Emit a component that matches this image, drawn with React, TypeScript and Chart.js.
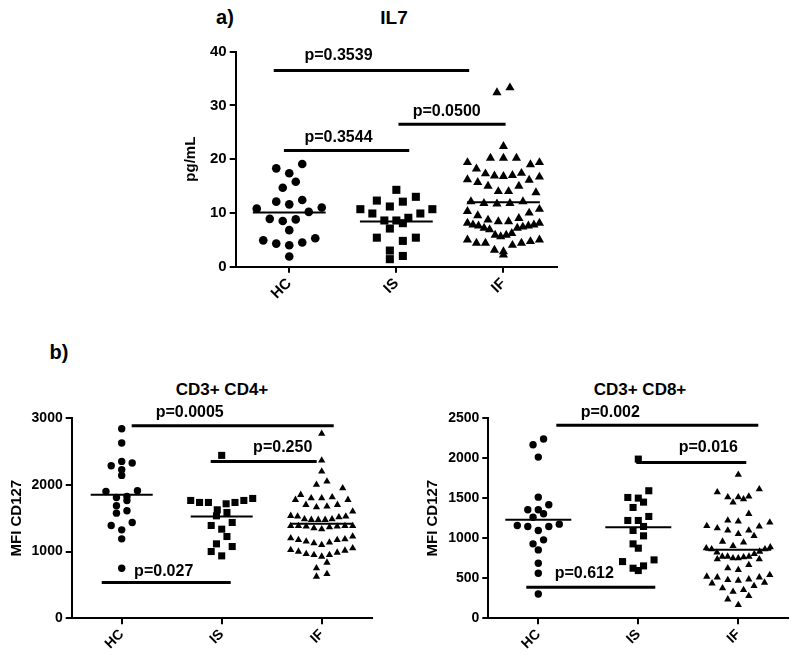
import React, { useEffect, useRef } from 'react';
import { Chart, registerables } from 'chart.js';

Chart.register(...registerables);

const FONT = "'Liberation Sans', Arial, Helvetica, sans-serif";
Chart.defaults.font.family = FONT;

// ---------- data ----------
const categories = ['HC', 'IS', 'IF'];

// a) IL7 (pg/mL)
const il7HC = [18.3, 19.1, 17.4, 15.8, 14.7, 12.4, 11.6, 12.1, 10.8, 10.2, 11.0, 8.8, 8.5, 8.9, 6.8, 5.3, 4.5, 4.0, 4.3, 4.9, 1.9];
const il7IS = [14.3, 13.0, 12.1, 12.3, 10.7, 10.7, 11.2, 9.9, 9.9, 8.6, 8.1, 8.6, 9.1, 7.1, 5.4, 4.8, 5.4, 3.0, 1.4, 2.0];
const il7IF = [33.3, 32.4, 22.4, 20.2, 19.4, 19.0, 19.4, 20.2, 20.2, 18.2, 17.4, 16.2, 17.0, 16.8, 16.7, 16.9, 17.3, 16.1,
  15.7, 15.0, 14.0, 13.8, 14.0, 15.0, 12.1, 11.8, 11.7, 11.8, 12.1, 10.0, 10.3, 10.7, 9.5, 8.7, 8.4, 8.1, 7.8, 7.6, 7.6,
  7.8, 8.1, 8.4, 9.0, 7.2, 7.4, 6.9, 5.9, 5.6, 5.9, 6.2, 7.2, 4.7, 4.4, 5.0, 4.0, 4.4, 5.0, 4.4, 2.8, 3.1, 2.2];
const il7Means = [10.1, 8.4, 12.0];
const il7PText = ['p=0.3539', 'p=0.3544', 'p=0.0500'];
const il7PTextX = [0.46, 0.46, 1.47];
const il7PTextY = [39.2, 24.1, 28.8];
const il7PLineY = [36.5, 21.6, 26.5];
const il7PFrom = [-0.145, -0.05, 1.02];
const il7PTo = [1.68, 1.12, 2.02];

// b) CD3+ CD4+ (MFI CD127)
const cd4HC = [2840, 2625, 2325, 2350, 2285, 2225, 2140, 1910, 1825, 1900, 1810, 1765, 1685, 1610, 1575, 1390, 1325, 1435, 1190, 750];
const cd4IS = [2440, 1795, 1735, 1735, 1715, 1735, 1765, 1765, 1585, 1535, 1625, 1435, 1335, 1390, 1225, 1115, 1075, 1000, 935];
const cd4IF = [2765, 2365, 2200, 2050, 1950, 2000, 1800, 1775, 1850, 1815, 1775, 1800, 1700, 1675, 1665, 1700, 1600,
  1525, 1475, 1485, 1535, 1475, 1475, 1485, 1515, 1525, 1385, 1375, 1365, 1335, 1385, 1350, 1385, 1375, 1385,
  1225, 1200, 1175, 1150, 1125, 1100, 1135, 1175, 1185, 1050, 1025, 985, 950, 925, 835, 950, 965, 1000, 1015, 750, 625, 665];
const cd4Means = [1850, 1525, 1415];
const cd4PText = ['p=0.0005', 'p=0.250', 'p=0.027'];
const cd4PTextX = [0.68, 1.61, 0.42];
const cd4PTextY = [3087, 2550, 700];
const cd4PLineY = [2884, 2350, 535];
const cd4PFrom = [0.10, 0.89, -0.2];
const cd4PTo = [2.12, 1.95, 1.09];

// b) CD3+ CD8+ (MFI CD127)
const cd8HC = [2237, 2167, 2012, 1512, 1354, 1417, 1354, 1262, 1304, 1146, 1158, 1096, 1146, 1175, 979, 929, 854, 687, 562, 304];
const cd8IS = [1987, 1592, 1508, 1450, 1500, 1383, 1221, 1271, 1221, 1146, 1096, 1029, 929, 875, 729, 654, 596, 625, 708];
const cd8IF = [1792, 1612, 1575, 1512, 1487, 1446, 1512, 1521, 1304, 1221, 1196, 1208, 1154, 1096, 1054, 1029, 1096, 1125,
  1146, 946, 958, 887, 862, 833, 821, 862, 804, 875, 904, 771, 750, 737, 750, 667, 771, 737, 762, 771, 625, 604, 542,
  512, 487, 512, 521, 471, 479, 437, 404, 354, 333, 375, 446, 279, 237, 167];
const cd8Means = [1230, 1135, 855];
const cd8PText = ['p=0.002', 'p=0.016', 'p=0.612'];
const cd8PTextX = [0.72, 1.70, 0.46];
const cd8PTextY = [2562, 2125, 562];
const cd8PLineY = [2408, 1946, 387];
const cd8PFrom = [0.18, 0.98, -0.12];
const cd8PTo = [2.20, 2.08, 1.17];

// ---------- layout helpers ----------
function rowOffsets(values: number[], binUnits: number, spacingPx: number, maxWidthPx: number, pxPerCat: number): number[] {
  const rows = new Map<number, number[]>();
  values.forEach((v, i) => {
    const b = Math.floor(v / binUnits);
    if (!rows.has(b)) rows.set(b, []);
    rows.get(b)!.push(i);
  });
  const off = new Array(values.length).fill(0);
  rows.forEach((idx) => {
    idx.sort((a, b) => values[a] - values[b]);
    const n = idx.length;
    const s = n > 1 ? Math.min(spacingPx, maxWidthPx / (n - 1)) : 0;
    const slots = Array.from({ length: n }, (_, k) => (k - (n - 1) / 2) * s);
    slots.sort((a, b) => Math.abs(a) - Math.abs(b) || a - b);
    idx.forEach((i, k) => { off[i] = slots[k] / pxPerCat; });
  });
  return off;
}

type PStyle = 'circle' | 'rect' | 'triangle';

interface PanelCfg {
  canvasLeft: number; canvasTop: number; canvasWidth: number; canvasHeight: number;
  plotLeft: number; plotRight: number; plotTop: number; plotBottom: number;
  xAxisHeight: number;
  yMax: number; yStep: number; yTitle: string;
  groups: number[][]; means: number[];
  styles: PStyle[]; radii: number[];
  binUnits: number; spacingPx: number; maxWidthPx: number; meanHalf: number;
  pText: string[]; pTextX: number[]; pTextY: number[]; pLineY: number[]; pFrom: number[]; pTo: number[];
  yTickFont: number; xTickFont: number; pFont: number; yTitleFont: number;
}

function Panel({ cfg }: { cfg: PanelCfg }) {
  const ref = useRef<HTMLCanvasElement>(null);
  useEffect(() => {
    const c = cfg;
    const pxPerCat = (c.plotRight - c.plotLeft) / 3;
    const datasets: any[] = [];
    c.groups.forEach((vals, g) => {
      const offs = rowOffsets(vals, c.binUnits, c.spacingPx, c.maxWidthPx, pxPerCat);
      datasets.push({
        type: 'scatter',
        data: vals.map((v, i) => ({ x: g + offs[i], y: v })),
        pointStyle: c.styles[g], pointRadius: c.radii[g],
        backgroundColor: '#000', borderColor: '#000', borderWidth: 0, clip: false,
      });
    });
    c.means.forEach((m, g) => {
      datasets.push({
        type: 'line', data: [{ x: g - c.meanHalf, y: m }, { x: g + c.meanHalf, y: m }],
        borderColor: '#000', borderWidth: 2, pointRadius: 0, fill: false, clip: false,
      });
    });
    c.pLineY.forEach((ly, k) => {
      datasets.push({
        type: 'line', data: [{ x: c.pFrom[k], y: ly }, { x: c.pTo[k], y: ly }],
        borderColor: '#000', borderWidth: 3, pointRadius: 0, fill: false, clip: false, borderCapStyle: 'butt',
      });
    });
    const yAxisWidth = c.plotLeft - c.canvasLeft;
    const axisCommon = {
      grid: { display: true, drawOnChartArea: false, drawTicks: true, tickLength: 6, color: '#000', lineWidth: 2 },
      border: { display: true, color: '#000', width: 2 },
    };
    const chart = new Chart(ref.current!, {
      type: 'scatter',
      data: { datasets },
      options: {
        responsive: false,
        animation: false,
        events: [],
        layout: {
          padding: {
            left: 0,
            top: c.plotTop - c.canvasTop,
            right: c.canvasLeft + c.canvasWidth - c.plotRight,
            bottom: c.canvasTop + c.canvasHeight - c.plotBottom - c.xAxisHeight,
          },
        },
        plugins: { legend: { display: false }, tooltip: { enabled: false }, title: { display: false } },
        scales: {
          x: {
            type: 'linear', min: -0.5, max: 2.5,
            afterBuildTicks: (s: any) => { s.ticks = categories.map((_, i) => ({ value: i })); },
            afterFit: (s: any) => { s.height = c.xAxisHeight; },
            ticks: {
              callback: (v: any) => categories[Math.round(Number(v))],
              minRotation: 45, maxRotation: 45, autoSkip: false, padding: 2,
              color: '#000', font: { family: FONT, size: c.xTickFont, weight: 'bold' },
            },
            ...axisCommon,
          },
          y: {
            type: 'linear', min: 0, max: c.yMax,
            afterFit: (s: any) => { s.width = yAxisWidth; },
            ticks: {
              stepSize: c.yStep, padding: 3, color: '#000',
              callback: (v: any) => String(v),
              font: { family: FONT, size: c.yTickFont, weight: 'bold' },
            },
            title: {
              display: true, text: c.yTitle, color: '#000',
              font: { family: FONT, size: c.yTitleFont, weight: 'bold', lineHeight: 1.2 },
              padding: { top: 0, bottom: 0 },
            },
            ...axisCommon,
          },
        } as any,
      },
      plugins: [{
        id: 'ptext',
        afterDatasetsDraw(ch: any) {
          const { ctx } = ch;
          const xs = ch.scales.x, ys = ch.scales.y;
          ctx.save();
          ctx.font = `bold ${c.pFont}px ${FONT}`;
          ctx.fillStyle = '#000';
          ctx.textAlign = 'center';
          ctx.textBaseline = 'middle';
          c.pText.forEach((t, k) => {
            ctx.fillText(t, xs.getPixelForValue(c.pTextX[k]), ys.getPixelForValue(c.pTextY[k]));
          });
          ctx.restore();
        },
      }],
    } as any);
    return () => chart.destroy();
  }, [cfg]);
  return (
    <canvas
      ref={ref}
      width={cfg.canvasWidth}
      height={cfg.canvasHeight}
      style={{ position: 'absolute', left: cfg.canvasLeft, top: cfg.canvasTop, width: cfg.canvasWidth, height: cfg.canvasHeight }}
    />
  );
}

const il7Cfg: PanelCfg = {
  canvasLeft: 182, canvasTop: 0, canvasWidth: 400, canvasHeight: 330,
  plotLeft: 235.7, plotRight: 557, plotTop: 51.7, plotBottom: 266.7, xAxisHeight: 50,
  yMax: 40, yStep: 10, yTitle: 'pg/mL',
  groups: [il7HC, il7IS, il7IF], means: il7Means,
  styles: ['circle', 'rect', 'triangle'], radii: [4.3, 5.7, 5.3],
  binUnits: 2.8, spacingPx: 13, maxWidthPx: 72, meanHalf: 0.34,
  pText: il7PText, pTextX: il7PTextX, pTextY: il7PTextY, pLineY: il7PLineY, pFrom: il7PFrom, pTo: il7PTo,
  yTickFont: 15, xTickFont: 15, pFont: 16, yTitleFont: 15,
};

const cd4Cfg: PanelCfg = {
  canvasLeft: 8, canvasTop: 380, canvasWidth: 382, canvasHeight: 279,
  plotLeft: 71.7, plotRight: 371.7, plotTop: 418, plotBottom: 618.3, xAxisHeight: 38,
  yMax: 3000, yStep: 1000, yTitle: 'MFI CD127',
  groups: [cd4HC, cd4IS, cd4IF], means: cd4Means,
  styles: ['circle', 'rect', 'triangle'], radii: [3.7, 5.0, 4.2],
  binUnits: 180, spacingPx: 10.5, maxWidthPx: 62, meanHalf: 0.31,
  pText: cd4PText, pTextX: cd4PTextX, pTextY: cd4PTextY, pLineY: cd4PLineY, pFrom: cd4PFrom, pTo: cd4PTo,
  yTickFont: 14, xTickFont: 14, pFont: 16, yTitleFont: 15,
};

const cd8Cfg: PanelCfg = {
  canvasLeft: 424, canvasTop: 380, canvasWidth: 376, canvasHeight: 279,
  plotLeft: 488.3, plotRight: 788.3, plotTop: 418, plotBottom: 618.3, xAxisHeight: 38,
  yMax: 2500, yStep: 500, yTitle: 'MFI CD127',
  groups: [cd8HC, cd8IS, cd8IF], means: cd8Means,
  styles: ['circle', 'rect', 'triangle'], radii: [3.7, 5.0, 4.2],
  binUnits: 150, spacingPx: 10.5, maxWidthPx: 64, meanHalf: 0.33,
  pText: cd8PText, pTextX: cd8PTextX, pTextY: cd8PTextY, pLineY: cd8PLineY, pFrom: cd8PFrom, pTo: cd8PTo,
  yTickFont: 14, xTickFont: 14, pFont: 16, yTitleFont: 15,
};

function Label({ text, cx, cy, size }: { text: string; cx: number; cy: number; size: number }) {
  return (
    <div style={{
      position: 'absolute', left: cx, top: cy, transform: 'translate(-50%, -50%)',
      font: `bold ${size}px ${FONT}`, lineHeight: 1, whiteSpace: 'nowrap', color: '#000',
    }}>{text}</div>
  );
}

export default function App() {
  return (
    <div style={{ position: 'fixed', left: 0, top: 0, width: 800, height: 659, background: '#fff', overflow: 'hidden' }}>
      <Label text="a)" cx={225} cy={17} size={20} />
      <Label text="IL7" cx={394} cy={17} size={19} />
      <Label text="b)" cx={59} cy={352} size={20} />
      <Label text="CD3+ CD4+" cx={222} cy={389} size={17} />
      <Label text="CD3+ CD8+" cx={640} cy={389} size={17} />
      <Panel cfg={il7Cfg} />
      <Panel cfg={cd4Cfg} />
      <Panel cfg={cd8Cfg} />
    </div>
  );
}
